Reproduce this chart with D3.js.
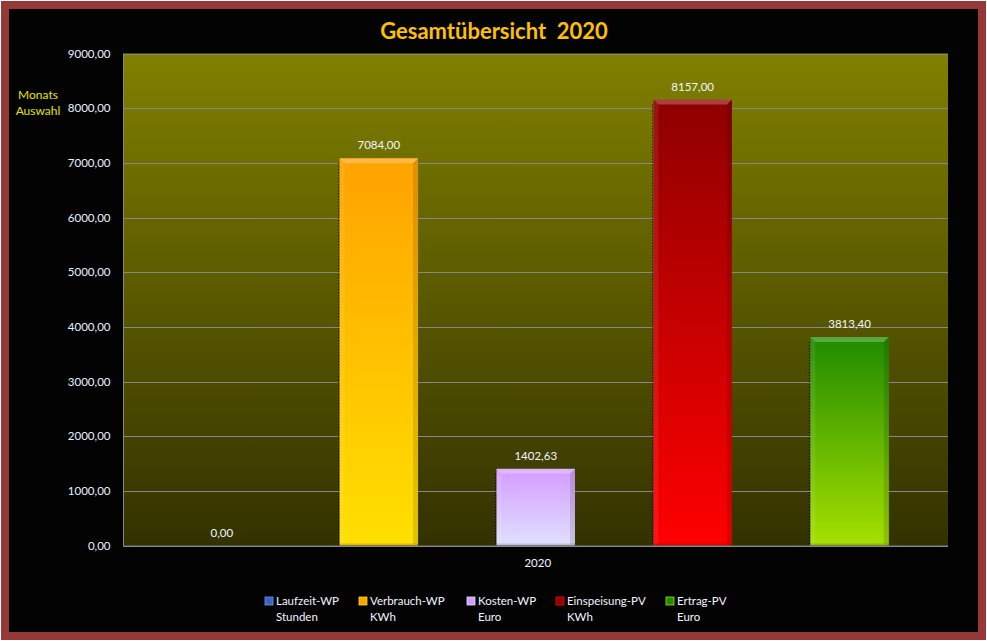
<!DOCTYPE html>
<html><head><meta charset="utf-8">
<script src="https://cdn.jsdelivr.net/npm/d3@7"></script>
<style>html,body{margin:0;padding:0;background:#fff;overflow:hidden}svg{display:block}</style>
</head><body>
<script>
const category = "2020";
const seriesNames = ["Laufzeit-WP", "Verbrauch-WP", "Kosten-WP", "Einspeisung-PV", "Ertrag-PV"];
const seriesUnits = ["Stunden", "KWh", "Euro", "KWh", "Euro"];
const seriesValues = [0, 7084, 1402.63, 8157, 3813.4];
const yTicks = [0, 1000, 2000, 3000, 4000, 5000, 6000, 7000, 8000, 9000];
const topColors = ["#3a64c0", "#ffa200", "#d49cff", "#8e0000", "#1f8a00"];
const bottomColors = ["#6a94e8", "#ffe000", "#e0e0ff", "#ff0000", "#a6e000"];

const W = 987, H = 641;
const svg = d3.select("body").append("svg").attr("width", W).attr("height", H);
const defs = svg.append("defs");

// frame
svg.append("rect").attr("x", 1).attr("y", 1).attr("width", 985).attr("height", 639).attr("fill", "#963838");
svg.append("rect").attr("x", 9).attr("y", 9).attr("width", 969).attr("height", 623).attr("fill", "#030303");

const plot = {l: 123.5, r: 948, t: 53.5, b: 545.5};

const bgGrad = defs.append("linearGradient").attr("id", "bg").attr("x1", 0).attr("y1", 0).attr("x2", 0).attr("y2", 1);
bgGrad.append("stop").attr("offset", "0%").attr("stop-color", "#808000");
bgGrad.append("stop").attr("offset", "100%").attr("stop-color", "#333100");
svg.append("rect").attr("x", plot.l).attr("y", plot.t).attr("width", plot.r - plot.l).attr("height", plot.b - plot.t).attr("fill", "url(#bg)");

const y = d3.scaleLinear().domain([0, 9000]).range([plot.b, plot.t]);
const x = d3.scaleBand().domain(seriesNames).range([plot.l, plot.r]).paddingInner(0.5).paddingOuter(0.377);

const loc = d3.formatLocale({decimal: ",", thousands: "", grouping: [3], currency: ["", "€"]});
const fmt = loc.format(".2f");

// grid
svg.append("g").selectAll("line").data(yTicks).join("line")
  .attr("x1", plot.l).attr("x2", plot.r)
  .attr("y1", d => Math.round(y(d)) + 0.5).attr("y2", d => Math.round(y(d)) + 0.5)
  .attr("stroke", "#888888").attr("stroke-width", 1);
svg.append("line").attr("x1", plot.l).attr("x2", plot.l).attr("y1", plot.t).attr("y2", plot.b + 1)
  .attr("stroke", "#888888");

// y axis
const yAxis = d3.axisLeft(y).tickValues(yTicks).tickFormat(fmt).tickSize(0).tickPadding(13);
const gy = svg.append("g").attr("transform", `translate(${plot.l},0)`).call(yAxis);
gy.select(".domain").remove();
gy.selectAll("text").attr("fill", "#e8f2ff").attr("font-family", "Lato, 'Open Sans', sans-serif").attr("font-size", 11.5);

// bars
seriesNames.forEach((s, i) => {
  const g = defs.append("linearGradient").attr("id", "g" + i).attr("x1", 0).attr("y1", 0).attr("x2", 0).attr("y2", 1);
  g.append("stop").attr("offset", "0%").attr("stop-color", topColors[i]);
  g.append("stop").attr("offset", "100%").attr("stop-color", bottomColors[i]);
});

const bars = svg.append("g");
seriesNames.forEach((s, i) => {
  const v = seriesValues[i];
  const bx = x(s), bw = x.bandwidth(), by = y(v), bh = y(0) - y(v);
  if (bh <= 0) return;
  const gg = bars.append("g");
  gg.append("line").attr("x1", bx - 1).attr("x2", bx - 1).attr("y1", by + 5).attr("y2", y(0))
    .attr("stroke", "#000").attr("stroke-dasharray", "1,2");
  gg.append("rect").attr("x", bx).attr("y", by).attr("width", bw).attr("height", bh).attr("fill", "url(#g" + i + ")");
  const bev = Math.min(5, bh / 2);
  gg.append("path").attr("d", `M${bx},${by}L${bx + bw},${by}L${bx + bw - bev},${by + bev}L${bx + bev},${by + bev}Z`)
    .attr("fill", "#fff").attr("opacity", 0.25);
  gg.append("path").attr("d", `M${bx},${by}L${bx + bev},${by + bev}L${bx + bev},${by + bh - 2}L${bx},${by + bh}Z`)
    .attr("fill", "#fff").attr("opacity", 0.08);
  gg.append("path").attr("d", `M${bx + bw},${by}L${bx + bw - bev},${by + bev}L${bx + bw - bev},${by + bh - 2}L${bx + bw},${by + bh}Z`)
    .attr("fill", "#000").attr("opacity", 0.12);
  gg.append("rect").attr("x", bx).attr("y", by + bh - 2).attr("width", bw).attr("height", 2)
    .attr("fill", "#000").attr("opacity", 0.15);
});
svg.append("line").attr("x1", plot.l).attr("x2", plot.r).attr("y1", plot.b + 0.5).attr("y2", plot.b + 0.5)
  .attr("stroke", "#888888");

// data labels
svg.append("g").selectAll("text").data(seriesNames).join("text")
  .attr("x", d => x(d) + x.bandwidth() / 2)
  .attr("y", (d, i) => y(seriesValues[i]) - 9)
  .attr("text-anchor", "middle").attr("fill", "#f2f6ff")
  .attr("font-family", "Lato, 'Open Sans', sans-serif").attr("font-size", 11.5)
  .text((d, i) => fmt(seriesValues[i]));

// category label
svg.append("text").attr("x", (plot.l + plot.r) / 2 + 2).attr("y", 567).attr("text-anchor", "middle")
  .attr("fill", "#f2f6ff").attr("font-family", "Lato, 'Open Sans', sans-serif").attr("font-size", 11.5).text(category);

// title
svg.append("text").attr("x", 494).attr("y", 39).attr("text-anchor", "middle")
  .attr("fill", "#ffc000").attr("font-family", "Lato, 'Open Sans', sans-serif").attr("font-weight", "bold")
  .attr("font-size", 22).style("white-space", "pre").text("Gesamtübersicht  2020");

// y label
const yl = svg.append("text").attr("fill", "#e0e400").attr("font-family", "Lato, 'Open Sans', sans-serif")
  .attr("font-size", 12).attr("text-anchor", "middle");
yl.append("tspan").attr("x", 38).attr("y", 99).text("Monats");
yl.append("tspan").attr("x", 38).attr("y", 115).text("Auswahl");

// legend
const legendX = [265, 359, 467, 556, 666];
const lg = svg.append("g");
seriesNames.forEach((s, i) => {
  const lx = legendX[i];
  lg.append("rect").attr("x", lx).attr("y", 597).attr("width", 8).attr("height", 8)
    .attr("fill", topColors[i]).attr("stroke", bottomColors[i]).attr("stroke-width", 0.8);
  const t = lg.append("text").attr("fill", "#f2f6ff").attr("font-family", "Lato, 'Open Sans', sans-serif").attr("font-size", 11.5);
  t.append("tspan").attr("x", lx + 11).attr("y", 605).text(s);
  t.append("tspan").attr("x", lx + 11).attr("y", 621).text(seriesUnits[i]);
});
</script>
</body></html>
